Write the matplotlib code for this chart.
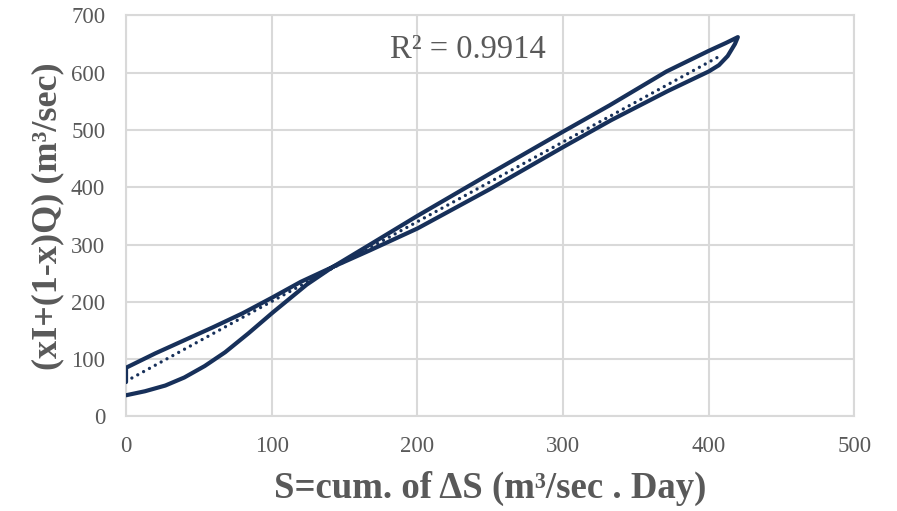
import matplotlib
matplotlib.use("Agg")
import matplotlib.pyplot as plt
import numpy as np

# Loop of weighted flow against cumulative storage (one flood event, in time order)
storage = [0, 13, 27, 40, 54, 68, 84, 101, 124, 142,
           167.5, 200, 250, 300, 332, 371, 400, 412, 420,
           418, 413, 407, 400, 372, 333, 300, 250, 200, 167.5, 142,
           120, 100, 80, 60, 40, 20, 0, 0]
weighted_flow = [37, 44, 54, 68, 88, 112, 145, 182, 230, 261,
                 300, 350, 424, 497, 543, 602, 638, 652, 662,
                 650, 629, 613, 602, 568, 517, 470, 397, 328, 290, 261,
                 235, 207, 180, 156, 133, 110, 85, 60]

# Linear trendline of the loop
trend_intercept = 61.5
trend_slope = 1.392
r_squared_label = "R² = 0.9914"

x_ticks = [0, 100, 200, 300, 400, 500]
y_ticks = [0, 100, 200, 300, 400, 500, 600, 700]

navy = "#17305A"
grid_gray = "#D9D9D9"
text_gray = "#595959"

plt.rcParams["font.family"] = ["Liberation Serif", "DejaVu Serif"]

fig = plt.figure(figsize=(8.97, 5.11), dpi=100)
ax = fig.add_axes([0.1405, 0.185, 0.812, 0.785])

ax.plot(storage, weighted_flow, color=navy, lw=3.0,
        solid_joinstyle="round", solid_capstyle="round", zorder=3)

tx = np.array([min(storage), 408])
ax.plot(tx, trend_intercept + trend_slope * tx, color=navy, lw=2.4,
        linestyle=(0, (0.001, 2.0)), dash_capstyle="round", zorder=4)

ax.set_xlim(x_ticks[0], x_ticks[-1])
ax.set_ylim(y_ticks[0], y_ticks[-1])
ax.set_xticks(x_ticks)
ax.set_yticks(y_ticks)
ax.grid(True, color=grid_gray, lw=1.5, zorder=0)
ax.set_axisbelow(True)
for s in ax.spines.values():
    s.set_color(grid_gray)
    s.set_linewidth(1.5)
ax.tick_params(length=0, labelsize=16.5, labelcolor=text_gray)
ax.tick_params(axis="x", pad=14)
ax.tick_params(axis="y", pad=15)

ax.set_xlabel("S=cum. of ΔS (m³/sec . Day)", fontsize=26.5, fontweight="bold",
              color=text_gray, labelpad=10)
ax.set_ylabel("(xI+(1-x)Q) (m³/sec)", fontsize=26, fontweight="bold",
              color=text_gray, labelpad=5)

ax.text(0.469, 0.913, r_squared_label, transform=ax.transAxes,
        fontsize=23.5, color=text_gray, ha="center", va="center")

fig.savefig("out.png", dpi=100)
